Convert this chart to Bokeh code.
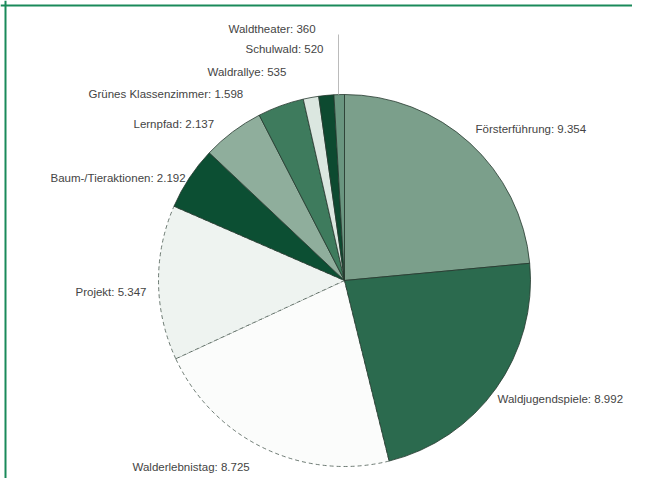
import math
from bokeh.plotting import figure
from bokeh.models import ColumnDataSource, Range1d
from bokeh.core.properties import value
from bokeh.embed import file_html
from bokeh.resources import INLINE

# ---- data ----
categories = ["Försterführung", "Waldjugendspiele", "Walderlebnistag", "Projekt",
              "Baum-/Tieraktionen", "Lernpfad", "Grünes Klassenzimmer",
              "Waldrallye", "Schulwald", "Waldtheater"]
values = [9354, 8992, 8725, 5347, 2192, 2137, 1598, 535, 520, 360]

# ---- style ----
colors = ["#7b9f8b", "#2b6a4e", "#fbfcfb", "#eef3f0", "#0c4f33",
          "#8fae9c", "#3e7b5d", "#dbe7e0", "#0d4a30", "#6a9680"]
dashed = [False, False, True, True, False, False, False, False, False, False]

W, H = 632, 478
def px(x):  # screen x -> data x
    return x
def py(y):  # screen y -> data y
    return H - y

cx, cy, R = px(344), py(280), 186

total = sum(values)
starts, ends = [], []
acc = 0.0
for v in values:
    starts.append(math.pi / 2 - acc / total * 2 * math.pi)
    acc += v
    ends.append(math.pi / 2 - acc / total * 2 * math.pi)

def fmt(v):
    return f"{v:,}".replace(",", ".")

labels = [f"{c}: {fmt(v)}" for c, v in zip(categories, values)]
# label anchor (left edge, vertical centre) in screen pixels
label_pos = [(475, 128), (497, 398), (132, 466), (75, 291), (50, 177),
             (133, 123), (88, 93), (207, 71), (245, 48), (228, 28)]

p = figure(width=W, height=H, output_backend="svg", toolbar_location=None,
           x_range=Range1d(0, W), y_range=Range1d(0, H), min_border=0)
p.axis.visible = False
p.grid.visible = False
p.outline_line_color = None
p.background_fill_color = "white"

solid = ColumnDataSource(dict(
    start=[s for s, d in zip(starts, dashed) if not d],
    end=[e for e, d in zip(ends, dashed) if not d],
    color=[c for c, d in zip(colors, dashed) if not d]))
dash = ColumnDataSource(dict(
    start=[s for s, d in zip(starts, dashed) if d],
    end=[e for e, d in zip(ends, dashed) if d],
    color=[c for c, d in zip(colors, dashed) if d]))

p.wedge(x=cx, y=cy, radius=R, start_angle="start", end_angle="end",
        direction="clock", fill_color="color", line_color="#4a5a52",
        line_width=0.8, source=dash, line_dash="4 3")
p.wedge(x=cx, y=cy, radius=R, start_angle="start", end_angle="end",
        direction="clock", fill_color="color", line_color="#26382f",
        line_width=0.8, source=solid)

# leader line for smallest slice
p.segment(x0=px(338), y0=py(34), x1=px(338), y1=py(94),
          line_color="#bbbbbb", line_width=1)

lsrc = ColumnDataSource(dict(x=[px(a) for a, b in label_pos],
                             y=[py(b) for a, b in label_pos],
                             text=labels))
p.text(x="x", y="y", text="text", source=lsrc, text_align="left",
       text_baseline="middle", text_font=value("Liberation Sans"),
       text_font_size="11.5px", text_color="#444444")

# green frame (top and left)
p.segment(x0=[0, px(5)], y0=[py(5), 0], x1=[W, px(5)], y1=[py(5), H],
          line_color="#1a8a5a", line_width=2)

open("out.html", "w").write(file_html(p, INLINE))
